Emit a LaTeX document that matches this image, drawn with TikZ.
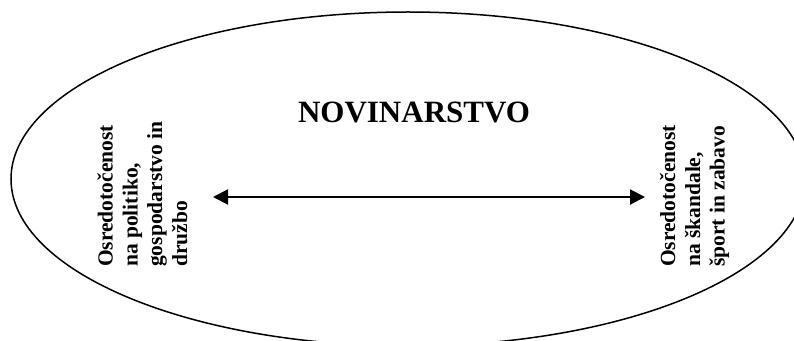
\documentclass[tikz,border=0pt]{standalone}
\usepackage{fontspec}
\setmainfont{Liberation Serif}
\usetikzlibrary{arrows.meta}
\begin{document}
\begin{tikzpicture}[x=1pt,y=1pt,
  sidetext/.style={rotate=90, anchor=base west, inner sep=0pt,
    font=\fontsize{21.5pt}{25pt}\selectfont\bfseries},
  titletext/.style={anchor=base, inner sep=0pt,
    font=\fontsize{31pt}{36pt}\selectfont\bfseries},
  link/.style={line width=2pt,
    {Triangle[length=15pt,width=15pt]}-{Triangle[length=15pt,width=15pt]}}]
\useasboundingbox (0,0) rectangle (794,340);
\begin{scope}
  \clip (0,0) rectangle (794,340);
  \draw[line width=1.5pt] (408,161) ellipse [x radius=397pt, y radius=167pt];
\end{scope}
\node[titletext] (title) at (414,217) {NOVINARSTVO};
\node[sidetext] (l1) at (112.5,73) {Osredotočenost};
\node[sidetext] (l2) at (137.5,73) {na politiko,};
\node[sidetext] (l3) at (162,73) {gospodarstvo in};
\node[sidetext] (l4) at (187,73) {družbo};
\node[sidetext] (r1) at (675,73) {Osredotočenost};
\node[sidetext] (r2) at (700,73) {na škandale,};
\node[sidetext] (r3) at (724.5,73) {šport in zabavo};
\coordinate (la) at (213,143);
\coordinate (ra) at (645,143);
\draw[link] (la) -- (ra);
\end{tikzpicture}
\end{document}
